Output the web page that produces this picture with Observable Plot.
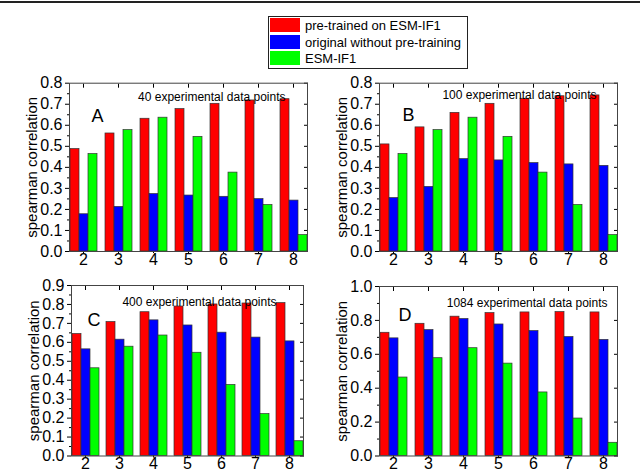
<!DOCTYPE html>
<html>
<head>
<meta charset="utf-8">
<script src="https://cdn.jsdelivr.net/npm/d3@7"></script>
<script src="https://cdn.jsdelivr.net/npm/@observablehq/plot@0.6"></script>
<style>
  body { margin: 0; background: white; font-family: "Liberation Sans", Arial, sans-serif; }
  #page { position: relative; width: 640px; height: 474px; overflow: hidden; background: white; }
  #topline { position: absolute; left: 0; top: 1px; width: 640px; border-top: 2px solid #222; }
  .panel { position: absolute; }
  #legend { position: absolute; left: 268px; top: 16px; width: 198px; height: 51px; border: 1px solid #222; background: white; }
  .row { position: absolute; left: 1px; height: 15px; font-size: 13px; line-height: 15px; color: #000; white-space: nowrap; }
  .sw { display: inline-block; width: 30px; height: 14px; vertical-align: top; margin-right: 5px; }
</style>
</head>
<body>
<div id="page">
  <div id="topline"></div>
  <div id="legend"></div>
  <div id="A" class="panel"></div>
  <div id="B" class="panel"></div>
  <div id="C" class="panel"></div>
  <div id="D" class="panel"></div>
</div>
<script>
// x categories
const kValues = [2, 3, 4, 5, 6, 7, 8];
const seriesNames = ["pre-trained on ESM-IF1", "original without pre-training", "ESM-IF1"];
const seriesColors = ["#ff0000", "#0000ff", "#00ff00"];

// ESM-IF1 is the same in every panel
const esmIF1 = [0.463, 0.577, 0.636, 0.545, 0.375, 0.221, 0.078];

const pretrainedA = [0.487, 0.561, 0.631, 0.677, 0.702, 0.718, 0.724];
const originalA = [0.177, 0.212, 0.273, 0.266, 0.260, 0.249, 0.242];
const pretrainedB = [0.509, 0.590, 0.659, 0.702, 0.726, 0.738, 0.742];
const originalB = [0.254, 0.307, 0.439, 0.433, 0.420, 0.414, 0.407];
const pretrainedC = [0.644, 0.707, 0.759, 0.789, 0.800, 0.805, 0.807];
const originalC = [0.563, 0.614, 0.716, 0.689, 0.651, 0.625, 0.605];
const pretrainedD = [0.727, 0.780, 0.822, 0.843, 0.847, 0.849, 0.847];
const originalD = [0.694, 0.743, 0.808, 0.776, 0.737, 0.702, 0.685];

const ticks8 = [0, 0.1, 0.2, 0.3, 0.4, 0.5, 0.6, 0.7, 0.8];
const ticks9 = [0, 0.1, 0.2, 0.3, 0.4, 0.5, 0.6, 0.7, 0.8, 0.9];
const ticks10 = [0, 0.2, 0.4, 0.6, 0.8, 1.0];

// legend
const legend = d3.select("#legend");
seriesNames.forEach((name, i) => {
  const row = legend.append("div").attr("class", "row").style("top", (1 + i * 16.5) + "px");
  row.append("span").attr("class", "sw").style("background", seriesColors[i]);
  row.append("span").text(name);
});

function panel(id, o) {
  const rows = kValues.flatMap((k, i) => [
    {k, series: seriesNames[0], value: o.pre[i]},
    {k, series: seriesNames[1], value: o.orig[i]},
    {k, series: seriesNames[2], value: esmIF1[i]}
  ]);
  const step = o.ticks[1] - o.ticks[0];
  const minor = o.ticks.slice(0, -1).map((t) => t + step / 2);

  const chart = Plot.plot({
    width: 320,
    height: o.height,
    marginLeft: o.ml,
    marginRight: o.mr,
    marginTop: o.mt,
    marginBottom: o.mb,
    style: {
      fontFamily: '"Liberation Sans", Arial, sans-serif',
      fontSize: "16px",
      background: "white",
      color: "#000",
      overflow: "visible"
    },
    fx: {domain: kValues, paddingInner: 0.19, paddingOuter: 0.04, axis: null, label: null},
    x: {domain: seriesNames, padding: 0, axis: null},
    y: {domain: o.domain, axis: null},
    color: {domain: seriesNames, range: seriesColors},
    marks: [
      Plot.barY(rows, {fx: "k", x: "series", y: "value", fill: "series", stroke: "#333", strokeWidth: 0.7}),
      Plot.axisFx({anchor: "bottom", tickSize: 2, tickPadding: 0, label: null, fontSize: 16}),
      Plot.axisFx({anchor: "top", tickSize: -4, text: null, label: null}),
      Plot.axisY({ticks: o.ticks, tickFormat: d3.format(".1f"), tickSize: 4, tickPadding: 3, label: null, fontSize: 16}),
      Plot.axisY({ticks: minor, tickSize: 2, text: null, label: null}),
      Plot.axisY({anchor: "right", ticks: o.ticks, tickSize: -4, text: null, label: null}),
      Plot.frame({facet: "super", stroke: "#444"}),
      Plot.text(["spearman correlation"], {facet: "super", text: (d) => d, frameAnchor: "left", textAnchor: "middle", rotate: -90, dx: -37, fontSize: 15}),
      Plot.text([o.note], {facet: "super", text: (d) => d, frameAnchor: "top-right", textAnchor: "end", dx: -o.ndx, dy: o.ndy, fontSize: 12}),
      Plot.text([o.letter], {facet: "super", text: (d) => d, frameAnchor: "top-left", textAnchor: "start", dx: o.ldx, dy: o.ldy, fontSize: 18})
    ]
  });
  d3.select("#" + id).style("left", o.left + "px").style("top", o.top + "px").append(() => chart);
}

panel("A", {pre: pretrainedA, orig: originalA, domain: [0, 0.8], ticks: ticks8,
  left: 0, top: 70, height: 205, ml: 67, mr: 11, mt: 12.7, mb: 24,
  note: "40 experimental data points", ndx: 22, ndy: 9.5, letter: "A", ldx: 22, ldy: 26});
panel("B", {pre: pretrainedB, orig: originalB, domain: [0, 0.8], ticks: ticks8,
  left: 320, top: 70, height: 205, ml: 57, mr: 21, mt: 12.7, mb: 24,
  note: "100 experimental data points", ndx: 21, ndy: 7.5, letter: "B", ldx: 23, ldy: 25.5});
panel("C", {pre: pretrainedC, orig: originalC, domain: [0, 0.9], ticks: ticks9,
  left: 0, top: 271, height: 203, ml: 67, mr: 13, mt: 14, mb: 18.5,
  note: "400 experimental data points", ndx: 27, ndy: 12, letter: "C", ldx: 16, ldy: 27.5});
panel("D", {pre: pretrainedD, orig: originalD, domain: [0, 1.0], ticks: ticks10,
  left: 320, top: 271, height: 203, ml: 57, mr: 21, mt: 15, mb: 18.5,
  note: "1084 experimental data points", ndx: 10, ndy: 12, letter: "D", ldx: 19, ldy: 21.5});
</script>
</body>
</html>
